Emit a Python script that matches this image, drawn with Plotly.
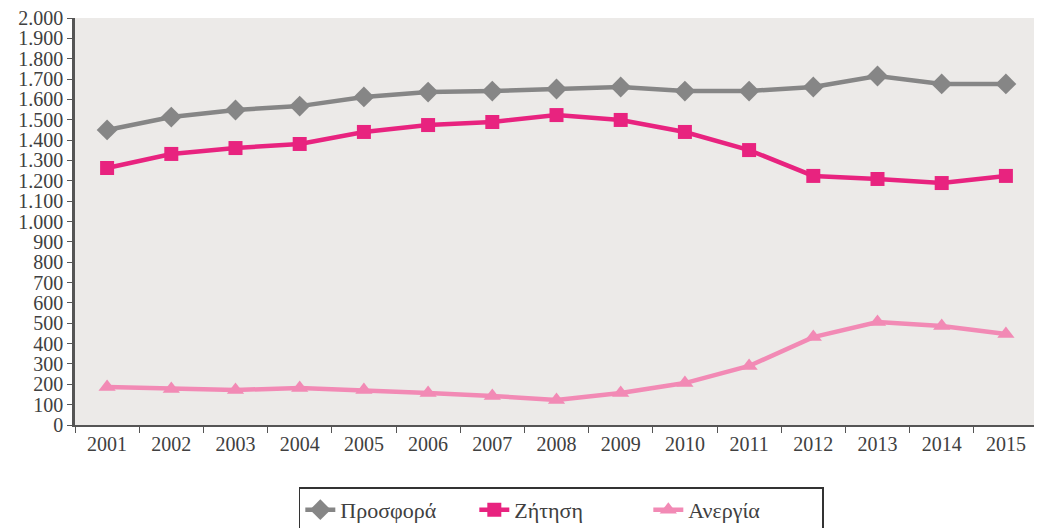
import plotly.graph_objects as go

years = [str(y) for y in range(2001, 2016)]
prosfora = [1450, 1513, 1548, 1567, 1612, 1636, 1641, 1651, 1661, 1641, 1641, 1661, 1715, 1676, 1676]
zitisi = [1263, 1332, 1361, 1381, 1440, 1474, 1489, 1523, 1499, 1440, 1351, 1224, 1209, 1189, 1224]
anergia = [187, 177, 172, 182, 172, 157, 143, 123, 157, 206, 290, 432, 506, 486, 447]

fig = go.Figure()
fig.add_trace(go.Scatter(x=years, y=prosfora, name="Προσφορά", mode="lines+markers",
                         line=dict(color="#868686", width=4.5),
                         marker=dict(symbol="diamond", size=16, color="#868686")))
fig.add_trace(go.Scatter(x=years, y=zitisi, name="Ζήτηση", mode="lines+markers",
                         line=dict(color="#E8237F", width=4.5),
                         marker=dict(symbol="square", size=14, color="#E8237F")))
fig.add_trace(go.Scatter(x=years, y=anergia, name="Ανεργία", mode="lines+markers",
                         line=dict(color="#F28AB5", width=4.5),
                         marker=dict(symbol="triangle-up", size=15, color="#F28AB5")))

# page body adds an 8px offset, so margins are shifted to compensate
fig.update_layout(
    width=1042, height=528,
    margin=dict(l=67, r=12, t=10, b=111, autoexpand=False),
    paper_bgcolor="white", plot_bgcolor="#ECEAE8",
    separators=",.",
    font=dict(family="Liberation Serif", size=20, color="#404040"),
    showlegend=True,
    legend=dict(orientation="h", x=0.505, xanchor="center", y=0.092, yanchor="top",
                yref="container", entrywidth=129, entrywidthmode="pixels",
                bordercolor="#333333", borderwidth=1.5, bgcolor="white",
                font=dict(size=22)),
)
fig.update_xaxes(type="category", range=[-0.5, 14.5], tickson="boundaries", ticks="outside",
                 ticklen=6, showline=True, linecolor="#555555", linewidth=2, showgrid=False,
                 tickcolor="#555555", automargin=False)
fig.update_yaxes(range=[0, 2000], dtick=100, tickformat=",d", ticks="outside", ticklen=5,
                 showline=True, linecolor="#555555", linewidth=2.5, showgrid=False,
                 zeroline=False, tickcolor="#555555", automargin=False,
                 ticklabeloverflow="allow")

fig.write_html("out.html")
